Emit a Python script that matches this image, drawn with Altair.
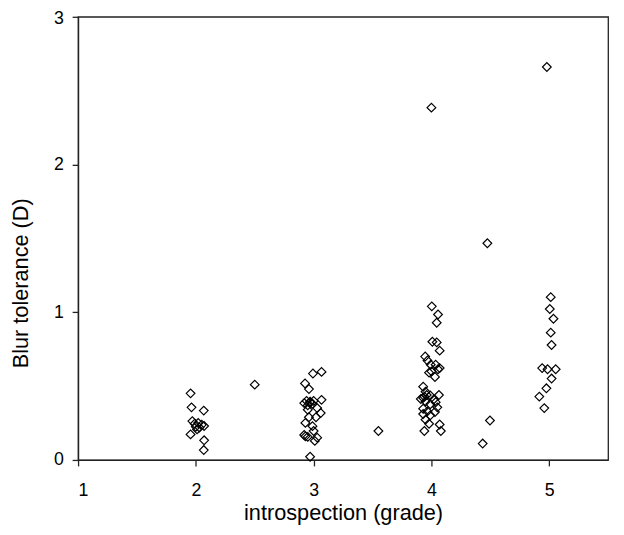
import altair as alt
import pandas as pd

introspection = [
    # grade 2
    1.955, 1.963, 2.067, 1.970, 1.990, 2.020, 2.050, 2.070, 2.000, 2.030, 2.010, 1.955, 2.070, 2.067,
    2.50,
    # grade 3
    2.994, 3.067, 2.927, 2.960, 3.067, 2.940, 2.970, 2.920, 2.990, 2.950, 2.970, 3.000,
    3.030, 2.950, 3.060, 2.960, 3.020, 2.930, 2.990, 3.000, 2.920, 2.950, 3.030, 3.010, 2.970, 2.930,
    3.55,
    # grade 4
    4.000, 4.003, 4.056, 4.045, 4.008, 4.045, 4.070, 3.947, 3.966, 3.994, 4.036, 4.056, 4.070,
    3.980, 4.030, 3.930, 3.950, 3.940, 3.910, 3.950, 3.990, 3.960, 3.930, 4.064, 4.036, 3.990,
    3.930, 4.050, 3.966, 4.030, 3.930, 3.990, 3.950, 3.980, 4.070, 4.080, 3.940, 4.020, 4.000,
    4.435, 4.497, 4.475,
    # grade 5
    4.980, 5.013, 5.005, 5.036, 5.013, 5.020, 4.940, 4.986, 5.055, 5.020, 4.976, 4.916, 4.958,
]
blur = [
    0.451, 0.356, 0.334, 0.263, 0.245, 0.250, 0.238, 0.230, 0.225, 0.220, 0.207, 0.173, 0.133, 0.067,
    0.51,
    0.585, 0.596, 0.518, 0.480, 0.407, 0.400, 0.395, 0.385, 0.380, 0.370, 0.390, 0.400,
    0.351, 0.340, 0.318, 0.289, 0.289, 0.251, 0.229, 0.196, 0.169, 0.156, 0.151, 0.129, 0.022, 0.160,
    0.196,
    2.385, 1.040, 0.985, 0.929, 0.800, 0.796, 0.740, 0.700, 0.673, 0.645, 0.645, 0.614, 0.622,
    0.591, 0.562, 0.496, 0.462, 0.429, 0.413, 0.396, 0.436, 0.440, 0.420, 0.440, 0.391, 0.377,
    0.347, 0.356, 0.329, 0.325, 0.311, 0.302, 0.273, 0.245, 0.240, 0.196, 0.196, 0.410, 0.600,
    0.111, 0.267, 1.467,
    2.660, 1.102, 1.022, 0.956, 0.862, 0.778, 0.622, 0.614, 0.614, 0.551, 0.485, 0.429, 0.351,
]

x_ticks = [1, 2, 3, 4, 5]
y_ticks = [0, 1, 2, 3]

df = pd.DataFrame({"introspection": introspection, "blur": blur})

FONT = "Liberation Sans"

chart = (
    alt.Chart(df)
    .mark_point(shape="diamond", size=78, filled=False, stroke="black", strokeWidth=1.2, opacity=1)
    .encode(
        x=alt.X(
            "introspection:Q",
            scale=alt.Scale(domain=[1, 5.5], nice=False, zero=False),
            axis=alt.Axis(
                values=x_ticks, title="introspection (grade)", grid=False,
                tickSize=6, labelPadding=16, labelFontSize=18, titleFontSize=22,
                titleY=60.5, titleBaseline="alphabetic",
            ),
        ),
        y=alt.Y(
            "blur:Q",
            scale=alt.Scale(domain=[0, 3], nice=False),
            axis=alt.Axis(
                values=y_ticks, title="Blur tolerance (D)", grid=False,
                tickSize=6, labelPadding=9, labelFontSize=18, titleFontSize=22,
                labelOffset={"condition": {"test": "datum.value == 3", "value": 2}, "value": 0},
                titleX=-58.5, titleY=269.5, titleBaseline="middle", titleAngle=-90,
                titleAlign="center",
            ),
        ),
    )
    .properties(
        width=537, height=449,
        autosize=alt.AutoSizeParams(type="none"),
        padding={"left": 71, "top": 5.5, "right": 8, "bottom": 64},
    )
    .configure_view(stroke="#222222", strokeWidth=1.3)
    .configure_axis(
        labelFont=FONT, titleFont=FONT, labelColor="black", titleColor="black",
        titleFontWeight="normal", domainColor="#222222", tickColor="#222222",
        domainWidth=1.3, tickWidth=1.3,
    )
)

chart.save("out.html", embed_options={"renderer": "svg", "actions": False})
